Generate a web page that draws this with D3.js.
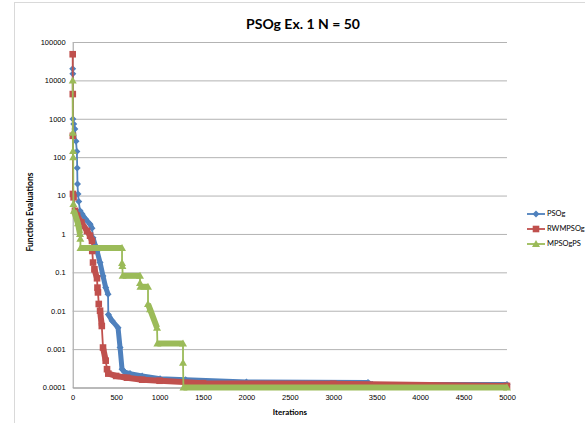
<!DOCTYPE html>
<html>
<head>
<meta charset="utf-8">
<script src="https://cdn.jsdelivr.net/npm/d3@7"></script>
<style>
body { margin: 0; background: #fff; }
svg { display: block; font-family: Lato, "Open Sans", sans-serif; }
</style>
</head>
<body>
<script>
// iterations / function evaluations
var psogIter = [0, 1, 3, 12, 25, 38, 48, 52, 55, 61, 70, 84, 107, 150, 200, 222, 234, 260, 280, 315, 349, 380, 407, 410, 453, 522, 545, 568, 600, 660, 800, 1006, 1300, 2000, 3400, 3450, 5000];
var psogVal  = [20000, 14800, 990, 730, 540, 260, 140, 52, 20, 11, 7, 4, 3.3, 2.4, 1.8, 1.4, 0.8, 0.5, 0.36, 0.18, 0.08, 0.04, 0.027, 0.008, 0.0055, 0.0036, 0.0011, 0.0003, 0.00025, 0.00023, 0.0002, 0.00017, 0.00016, 0.00014, 0.000135, 0.00012, 0.00012];

var rwmIter = [0, 1, 2, 3, 10, 26, 50, 100, 165, 200, 222, 225, 234, 250, 280, 285, 291, 300, 315, 335, 349, 380, 395, 410, 500, 625, 800, 1000, 1500, 3000, 5000];
var rwmVal  = [48000, 4400, 360, 11, 9, 4, 3, 2, 1.2, 0.9, 0.66, 0.36, 0.18, 0.12, 0.07, 0.04, 0.03, 0.015, 0.01, 0.004, 0.0011, 0.0005, 0.0003, 0.00023, 0.0002, 0.00018, 0.00016, 0.00015, 0.00013, 0.000125, 0.00011];

var mpsIter = [0, 2, 4, 6, 8, 14, 60, 84, 88, 90, 568, 568, 572, 575, 775, 775, 780, 867, 867, 890, 971, 975, 1270, 1270, 1275, 5000];
var mpsVal  = [10000, 430, 145, 100, 6, 4, 1.9, 1.0, 0.75, 0.43, 0.43, 0.176, 0.147, 0.081, 0.081, 0.053, 0.042, 0.042, 0.015, 0.011, 0.0036, 0.0014, 0.0014, 0.00044, 0.0001, 0.0001];

var seriesNames = ["PSOg", "RWMPSOg", "MPSOgPS"];
var yTicks = [0.0001, 0.001, 0.01, 0.1, 1, 10, 100, 1000, 10000, 100000];
var yTickLabels = ["0.0001", "0.001", "0.01", "0.1", "1", "10", "100", "1000", "10000", "100000"];
var xTicks = [0, 500, 1000, 1500, 2000, 2500, 3000, 3500, 4000, 4500, 5000];

var w = 585, h = 423;
var plotL = 72.7, plotR = 507, plotT = 42, plotB = 387.5;
var denseGap = 20; // a long gap in the list stands for a run of per-iteration markers

var svg = d3.select("body").append("svg")
	.attr("width", w)
	.attr("height", h);

// chart frame
svg.append("rect")
	.attr("x", 14.5).attr("y", 2.5)
	.attr("width", 700).attr("height", 500)
	.attr("fill", "#fff")
	.attr("stroke", "#d9d9d9");

var x = d3.scaleLinear().domain([0, 5000]).range([plotL, plotR]);
var y = d3.scaleLog().domain([0.0001, 100000]).range([plotB, plotT]);

// y axis + gridlines
var yAxis = svg.append("g")
	.attr("transform", "translate(" + plotL + ",0)")
	.call(d3.axisLeft(y)
		.tickValues(yTicks)
		.tickFormat(function(d, i){ return yTickLabels[i]; })
		.tickSizeInner(-(plotR - plotL))
		.tickSizeOuter(0)
		.tickPadding(7));
yAxis.selectAll(".tick line").attr("stroke", "#b3b3b3");
yAxis.select(".domain").attr("stroke", "#9a9a9a");
yAxis.selectAll("text").attr("fill", "#000").style("font-size", "7.5px");

// x axis
var xAxis = svg.append("g")
	.attr("transform", "translate(0," + plotB + ")")
	.call(d3.axisBottom(x)
		.tickValues(xTicks)
		.tickFormat(d3.format("d"))
		.tickSize(0)
		.tickPadding(7));
xAxis.select(".domain").attr("stroke", "#9a9a9a");
xAxis.selectAll("text").attr("fill", "#000").style("font-size", "7.5px");

// titles
svg.append("text")
	.attr("x", 303).attr("y", 29)
	.attr("text-anchor", "middle")
	.style("font-size", "14px").style("font-weight", "bold")
	.text("PSOg Ex. 1 N = 50");

svg.append("text")
	.attr("x", (plotL + plotR) / 2).attr("y", 415)
	.attr("text-anchor", "middle")
	.style("font-size", "8px").style("font-weight", "bold")
	.text("Iterations");

svg.append("text")
	.attr("transform", "translate(33,212) rotate(-90)")
	.attr("text-anchor", "middle")
	.style("font-size", "8.5px").style("font-weight", "bold")
	.text("Function Evaluations");

// series
var markers = {
	diamond: "M0,-3.5L3.5,0L0,3.5L-3.5,0Z",
	square: "M-3.3,-3.3h6.6v6.6h-6.6Z",
	triangle: "M0,-4L4,3L-4,3Z"
};
var styles = [
	{ color: "#4f81bd", marker: "diamond", band: 5 },
	{ color: "#c0504d", marker: "square", band: 6 },
	{ color: "#9bbb59", marker: "triangle", band: 6 }
];
var data = [
	d3.zip(psogIter, psogVal),
	d3.zip(rwmIter, rwmVal),
	d3.zip(mpsIter, mpsVal)
];

var line = d3.line()
	.x(function(d){ return x(d[0]); })
	.y(function(d){ return y(d[1]); });

data.forEach(function(pts, k){
	var s = styles[k];
	var g = svg.append("g");

	g.append("path")
		.attr("d", line(pts))
		.attr("fill", "none")
		.attr("stroke", s.color)
		.attr("stroke-width", 1.8);

	// dense runs drawn as a band
	var runs = [], cur = null;
	for (var i = 1; i < pts.length; i++) {
		if (pts[i][0] - pts[i - 1][0] >= denseGap) {
			if (!cur) { cur = [pts[i - 1]]; runs.push(cur); }
			cur.push(pts[i]);
		} else {
			cur = null;
		}
	}
	g.selectAll("path.band")
		.data(runs)
		.enter()
		.append("path")
		.attr("class", "band")
		.attr("d", line)
		.attr("fill", "none")
		.attr("stroke", s.color)
		.attr("stroke-width", s.band)
		.attr("stroke-linejoin", "round");

	g.selectAll("path.mk")
		.data(pts)
		.enter()
		.append("path")
		.attr("class", "mk")
		.attr("transform", function(d){ return "translate(" + x(d[0]) + "," + y(d[1]) + ")"; })
		.attr("d", markers[s.marker])
		.attr("fill", s.color);
});

// legend
var legend = svg.append("g").selectAll("g")
	.data(seriesNames)
	.enter()
	.append("g")
	.attr("transform", function(d, i){ return "translate(527," + (214 + i * 15) + ")"; });
legend.append("line")
	.attr("x1", 0).attr("x2", 18)
	.attr("stroke", function(d, i){ return styles[i].color; })
	.attr("stroke-width", 1.8);
legend.append("path")
	.attr("transform", "translate(9,0)")
	.attr("d", function(d, i){ return markers[styles[i].marker]; })
	.attr("fill", function(d, i){ return styles[i].color; });
legend.append("text")
	.attr("x", 20).attr("dy", "0.32em")
	.style("font-size", "7.5px")
	.text(function(d){ return d; });
</script>
</body>
</html>
